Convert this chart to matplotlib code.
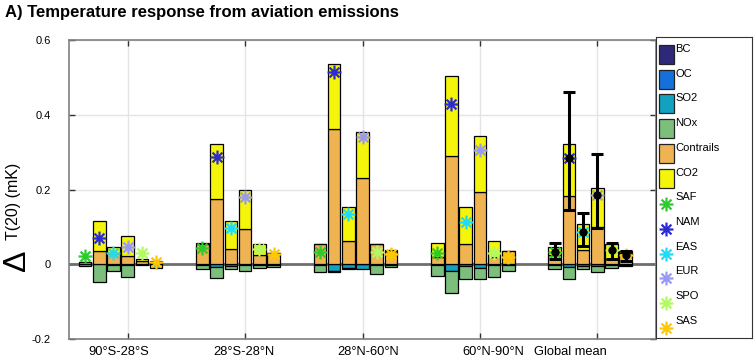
import numpy as np
import matplotlib
matplotlib.use('Agg')
import matplotlib.pyplot as plt
from matplotlib.path import Path
from matplotlib.patches import Rectangle

plt.rcParams['font.family'] = ['Liberation Sans', 'DejaVu Sans']

# Latitude bands (groups) and source regions (bars inside each group)
zones = ['90°S-28°S', '28°S-28°N', '28°N-60°N', '60°N-90°N', 'Global mean']
regions = ['SAF', 'NAM', 'EAS', 'EUR', 'SPO', 'SAS']

# Temperature response per species, rows = zones, columns = regions (mK)
bc = np.zeros((5, 6))
oc = np.zeros((5, 6))
so2 = np.array([
    [0.000, 0.000, -0.002, -0.002, 0.000, 0.000],
    [-0.002, -0.007, -0.004, -0.003, -0.002, -0.002],
    [-0.003, -0.017, -0.010, -0.013, -0.002, -0.003],
    [-0.003, -0.018, -0.004, -0.011, -0.003, -0.003],
    [-0.002, -0.008, -0.004, -0.004, -0.002, -0.002],
])
nox = np.array([
    [-0.004, -0.047, -0.016, -0.031, -0.003, -0.010],
    [-0.012, -0.029, -0.008, -0.016, -0.008, -0.005],
    [-0.018, -0.004, -0.002, 0.000, -0.023, -0.004],
    [-0.028, -0.059, -0.036, -0.029, -0.031, -0.015],
    [-0.011, -0.031, -0.009, -0.018, -0.008, -0.003],
])
contrails = np.array([
    [0.005, 0.035, 0.030, 0.022, 0.010, 0.006],
    [0.055, 0.174, 0.040, 0.094, 0.024, 0.031],
    [0.053, 0.362, 0.062, 0.230, 0.055, 0.035],
    [0.020, 0.289, 0.054, 0.194, 0.020, 0.036],
    [0.025, 0.182, 0.037, 0.100, 0.015, 0.030],
])
co2 = np.array([
    [0.000, 0.082, 0.016, 0.054, 0.003, 0.002],
    [0.002, 0.149, 0.075, 0.104, 0.031, 0.000],
    [0.000, 0.175, 0.091, 0.124, 0.000, 0.004],
    [0.038, 0.215, 0.099, 0.150, 0.042, 0.000],
    [0.020, 0.141, 0.070, 0.105, 0.040, 0.006],
])

# Net response per region (asterisks)
net = np.array([
    [0.022, 0.069, 0.029, 0.045, 0.031, 0.006],
    [0.044, 0.287, 0.098, 0.180, 0.042, 0.027],
    [0.033, 0.515, 0.134, 0.341, 0.033, 0.027],
    [0.030, 0.428, 0.113, 0.305, 0.030, 0.020],
    [0.033, 0.284, 0.087, 0.185, 0.037, 0.024],
])
# Uncertainty range of the global mean net response
gm_low = np.array([0.015, 0.146, 0.049, 0.097, 0.015, 0.009])
gm_high = np.array([0.057, 0.461, 0.136, 0.296, 0.058, 0.035])

species = ['BC', 'OC', 'SO2', 'NOx', 'Contrails', 'CO2']
species_colors = ['#2d2878', '#1570dc', '#12a2c0', '#7cbf7c', '#efb451', '#f5f50c']
region_colors = ['#2bcb2b', '#2b2bd0', '#1cdcf8', '#9898f8', '#b4f864', '#ffc800']

# MATLAB style asterisk built from four strokes
ang = np.deg2rad([0, 45, 90, 135])
verts, codes = [], []
for a in ang:
    verts += [(np.cos(a), np.sin(a)), (-np.cos(a), -np.sin(a))]
    codes += [Path.MOVETO, Path.LINETO]
asterisk = Path(verts, codes)

fig = plt.figure(figsize=(7.56, 3.64), dpi=100)
ax = fig.add_axes([69 / 756, 25 / 364, 587 / 756, 299 / 364])

step = 0.121
width = 0.107
groups = np.arange(1, 6)

for i in range(6):
    x = groups + (i - 3) * step
    pos = np.zeros(5)
    neg = np.zeros(5)
    for vals, col in zip([bc[:, i], oc[:, i], so2[:, i], nox[:, i], contrails[:, i], co2[:, i]],
                         species_colors):
        bottom = np.where(vals >= 0, pos, neg)
        ax.bar(x, vals, width, bottom=bottom, color=col, edgecolor='black',
               linewidth=0.9, zorder=3)
        pos = pos + np.clip(vals, 0, None)
        neg = neg + np.clip(vals, None, 0)
    ax.plot(x, net[:, i], linestyle='none', marker=asterisk, markersize=10,
            markeredgewidth=1.6, color=region_colors[i], zorder=5)

# Error bars for the global mean
xg = 5 + (np.arange(6) - 3) * step
yg = net[4]
ax.errorbar(xg, yg, yerr=[yg - gm_low, gm_high - yg], fmt='o', color='black',
            markersize=5, elinewidth=2.2, capsize=4.5, capthick=2.2, zorder=6)

ax.axhline(0, color='#6e6e6e', linewidth=2, zorder=2)

ax.set_xlim(0.5, 5.5)
ax.set_ylim(-0.2, 0.6)
ax.set_yticks([-0.2, 0, 0.2, 0.4, 0.6])
ax.set_yticklabels(['-0.2', '0', '0.2', '0.4', '0.6'])
ax.set_xticks(groups)
ax.set_xticklabels([])
ax.grid(True, color='#e4e4e4', linewidth=1, zorder=0)
ax.set_axisbelow(True)
ax.tick_params(direction='in', top=True, right=True, length=4, width=1,
               color='#333333', labelsize=8, pad=13)
for s in ax.spines.values():
    s.set_color('#808080')
    s.set_linewidth(1.2)

# Zone labels under the axis
label_px = [119, 244, 368.5, 493, 570.5]
for name, px in zip(zones, label_px):
    ax.text((px - 69) / 587, -0.042, name, transform=ax.transAxes,
            ha='center', va='center', fontsize=9.3)

# Axis label with a large delta
fig.text(17 / 756, 1 - 260 / 364, 'Δ', rotation=90, ha='center', va='center',
         fontsize=23, fontweight='light')
fig.text(14 / 756, 1 - 201 / 364, 'T(20) (mK)', rotation=90, ha='center',
         va='center', fontsize=11.5)

fig.text(5 / 756, 1 - 13 / 364, 'A) Temperature response from aviation emissions',
         ha='left', va='center', fontsize=12, fontweight='bold')

# Legend panel
lg = fig.add_axes([656 / 756, 26 / 364, 96 / 756, 301 / 364])
lg.set_xlim(0, 96)
lg.set_ylim(301, 0)
lg.set_xticks([])
lg.set_yticks([])
for s in lg.spines.values():
    s.set_color('#333333')
    s.set_linewidth(0.8)
row = 24.7
for k, (name, col) in enumerate(zip(species, species_colors)):
    yc = 12 + k * row
    lg.add_patch(Rectangle((3, yc - 4), 15, 19, facecolor=col, edgecolor='#222222',
                           linewidth=0.9))
    lg.text(19, yc, name, ha='left', va='center', fontsize=8)
for k, (name, col) in enumerate(zip(regions, region_colors)):
    yc = 12 + (k + 6) * row
    lg.plot([10], [yc + 7], linestyle='none', marker=asterisk, markersize=10,
            markeredgewidth=1.6, color=col)
    lg.text(19, yc, name, ha='left', va='center', fontsize=8)

fig.savefig('out.png', dpi=100)
